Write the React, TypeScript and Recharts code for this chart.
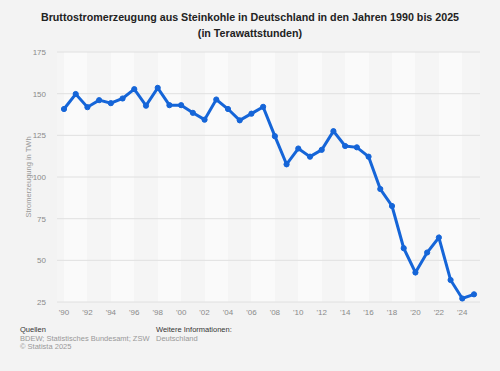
import { LineChart, Line, XAxis, YAxis, CartesianGrid } from "recharts";

const years = [
  1990, 1991, 1992, 1993, 1994, 1995, 1996, 1997, 1998, 1999, 2000, 2001, 2002,
  2003, 2004, 2005, 2006, 2007, 2008, 2009, 2010, 2011, 2012, 2013, 2014, 2015,
  2016, 2017, 2018, 2019, 2020, 2021, 2022, 2023, 2024, 2025,
];
const twh = [
  140.8, 149.8, 141.9, 146.1, 144.3, 147.1, 152.7, 142.8, 153.5, 143.1, 143.1,
  138.5, 134.4, 146.5, 140.8, 134.0, 138.0, 142.1, 124.5, 107.6, 117.1, 112.2,
  116.3, 127.5, 118.6, 117.8, 112.2, 92.8, 82.6, 57.3, 42.7, 54.7, 63.7, 38.2,
  27.1, 29.6,
];
const xTicks = [
  1990, 1992, 1994, 1996, 1998, 2000, 2002, 2004, 2006, 2008, 2010, 2012, 2014,
  2016, 2018, 2020, 2022, 2024,
];
const yTicks = [25, 50, 75, 100, 125, 150, 175];

const data = years.map((year, i) => ({ year, value: twh[i] }));

const font = '"Liberation Sans", Arial, Helvetica, sans-serif';

export default function App() {
  return (
    <div
      style={{
        position: "fixed",
        top: 0,
        left: 0,
        width: 500,
        height: 371,
        background: "#f3f3f3",
        fontFamily: font,
        overflow: "hidden",
      }}
    >
      <div
        style={{
          position: "absolute",
          top: 9,
          left: 0,
          width: 500,
          textAlign: "center",
          fontSize: 10.7,
          fontWeight: "bold",
          lineHeight: "16px",
          color: "#222",
        }}
      >
        Bruttostromerzeugung aus Steinkohle in Deutschland in den Jahren 1990 bis 2025
        <br />
        (in Terawattstunden)
      </div>

      <LineChart
        width={500}
        height={371}
        data={data}
        margin={{ top: 52, right: 20, bottom: 44, left: 0 }}
        style={{ position: "absolute", top: 0, left: 0 }}
      >
        <CartesianGrid
          horizontal={false}
          vertical={true}
          stroke="transparent"
          verticalFill={["#f5f5f5", "#fafafa"]}
        />
        <CartesianGrid horizontal={true} vertical={false} stroke="#e0e0e0" />
        <XAxis
          dataKey="year"
          type="number"
          domain={["dataMin", "dataMax"]}
          padding={{ left: 7, right: 6 }}
          ticks={xTicks}
          interval={0}
          height={25}
          axisLine={false}
          tickLine={false}
          tickSize={0}
          tickMargin={7}
          tick={{ fontSize: 8, fill: "#8a8a8a", fontFamily: font }}
          tickFormatter={(v: number) => "'" + String(v).slice(2)}
        />
        <YAxis
          domain={[25, 175]}
          ticks={yTicks}
          width={57}
          axisLine={false}
          tickLine={false}
          tickSize={0}
          tickMargin={11}
          interval={0}
          tick={{ fontSize: 8, fill: "#8a8a8a", fontFamily: font }}
        />
        <Line
          type="linear"
          dataKey="value"
          stroke="#1565d8"
          strokeWidth={3}
          dot={{ r: 2.6, fill: "#1565d8", stroke: "#1565d8", strokeWidth: 1 }}
          isAnimationActive={false}
        />
      </LineChart>

      <div
        style={{
          position: "absolute",
          left: 28,
          top: 177,
          transform: "translate(-50%, -50%) rotate(-90deg)",
          fontSize: 7.5,
          color: "#999",
          whiteSpace: "nowrap",
        }}
      >
        Stromerzeugung in TWh
      </div>

      <div
        style={{
          position: "absolute",
          left: 20,
          top: 326,
          fontSize: 7.5,
          lineHeight: "8.5px",
        }}
      >
        <div style={{ color: "#333" }}>Quellen</div>
        <div style={{ color: "#999" }}>BDEW; Statistisches Bundesamt; ZSW</div>
        <div style={{ color: "#999" }}>© Statista 2025</div>
      </div>
      <div
        style={{
          position: "absolute",
          left: 156,
          top: 326,
          fontSize: 7.5,
          lineHeight: "8.5px",
        }}
      >
        <div style={{ color: "#333" }}>Weitere Informationen:</div>
        <div style={{ color: "#999" }}>Deutschland</div>
      </div>
    </div>
  );
}
